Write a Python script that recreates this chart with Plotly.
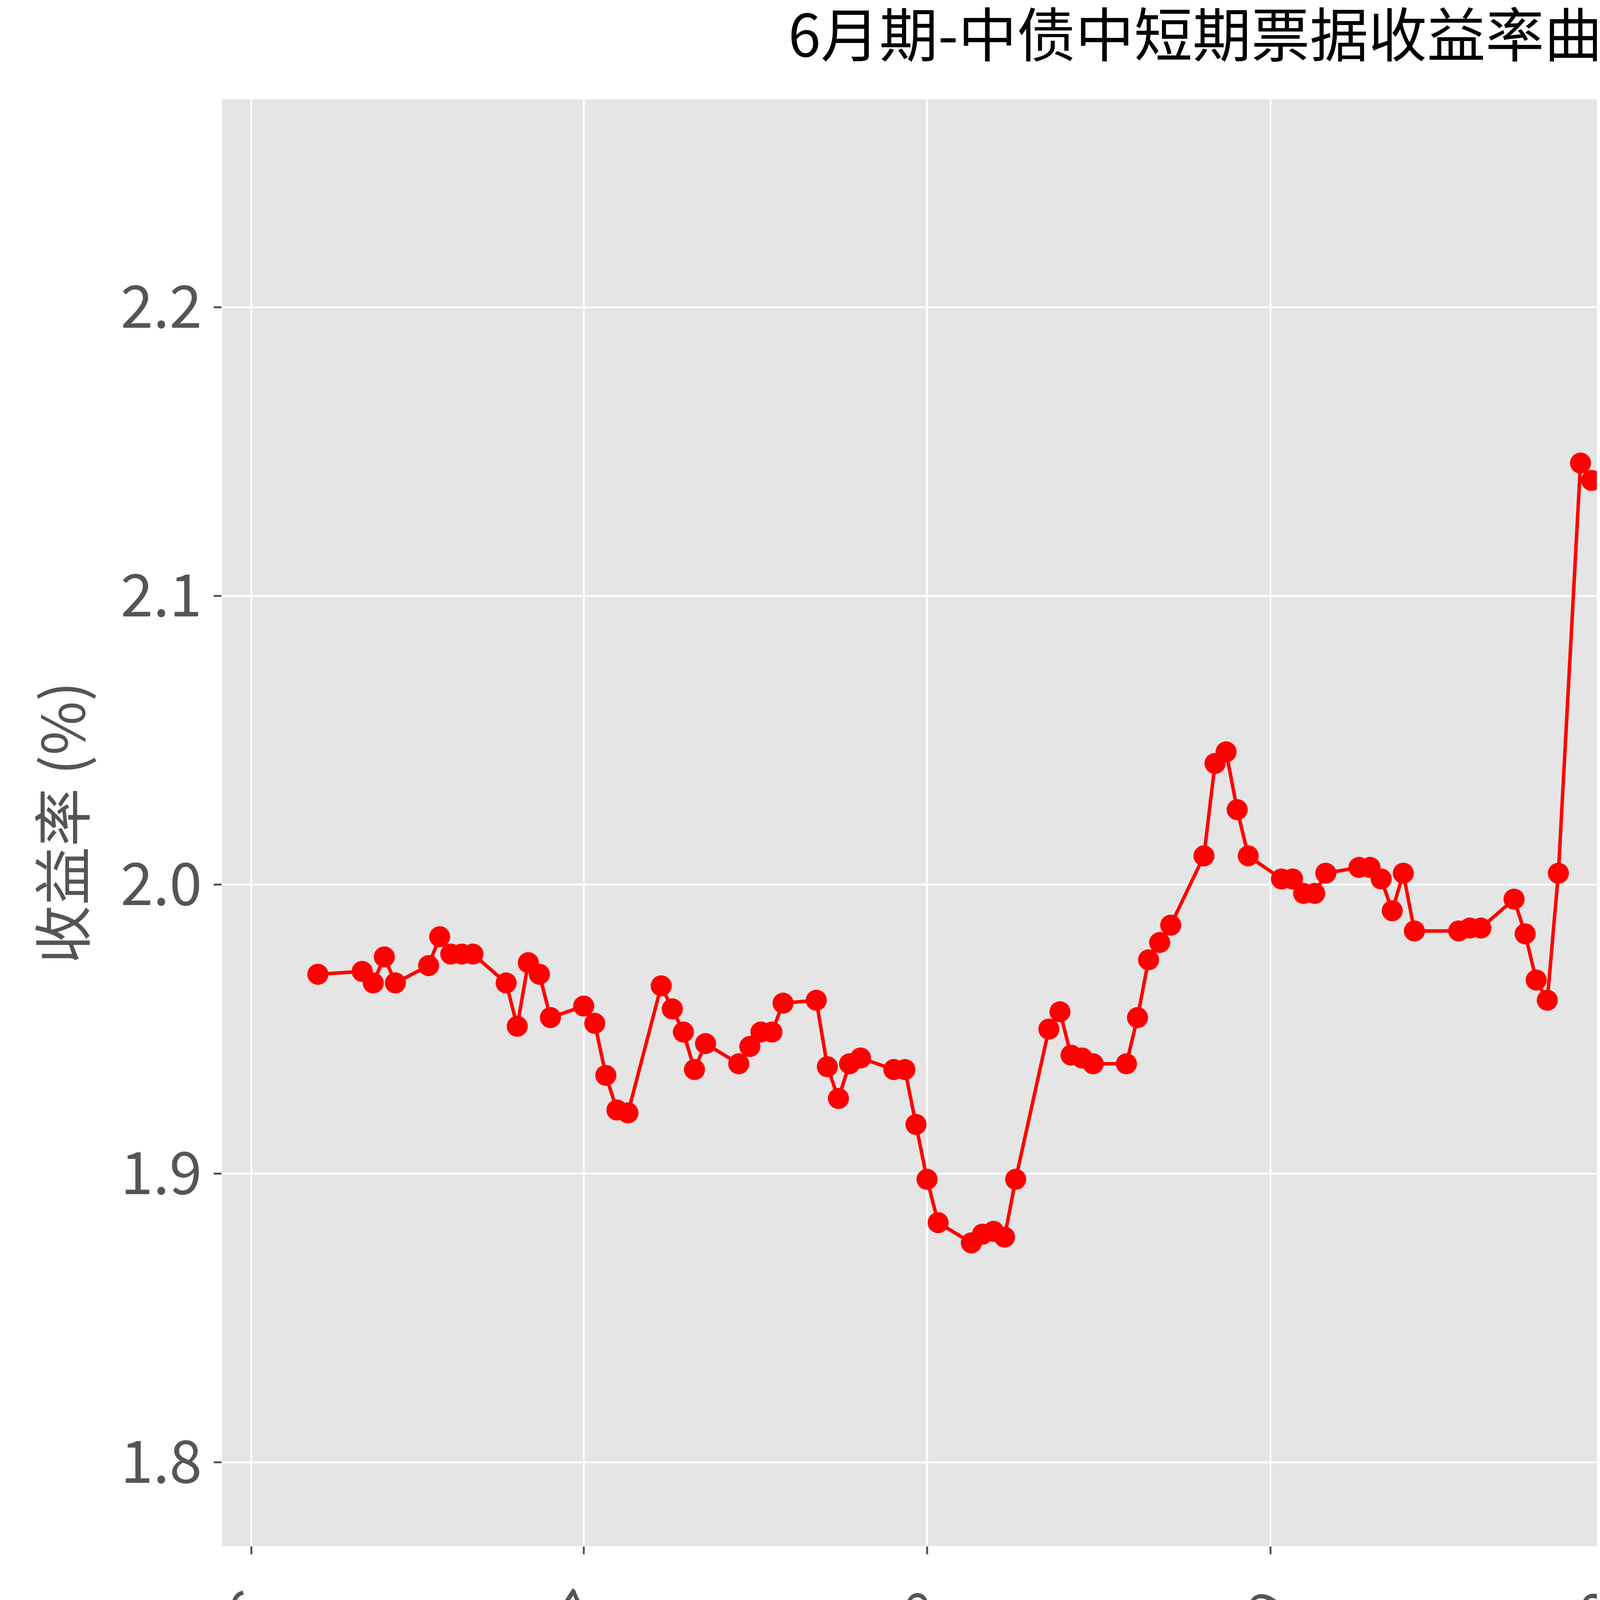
import plotly.graph_objects as go

dates = ["2024-06-07","2024-06-11","2024-06-12","2024-06-13","2024-06-14","2024-06-17","2024-06-18","2024-06-19","2024-06-20","2024-06-21",
"2024-06-24","2024-06-25","2024-06-26","2024-06-27","2024-06-28","2024-07-01","2024-07-02","2024-07-03","2024-07-04","2024-07-05",
"2024-07-08","2024-07-09","2024-07-10","2024-07-11","2024-07-12","2024-07-15","2024-07-16","2024-07-17","2024-07-18","2024-07-19",
"2024-07-22","2024-07-23","2024-07-24","2024-07-25","2024-07-26","2024-07-29","2024-07-30","2024-07-31","2024-08-01","2024-08-02",
"2024-08-05","2024-08-06","2024-08-07","2024-08-08","2024-08-09","2024-08-12","2024-08-13","2024-08-14","2024-08-15","2024-08-16",
"2024-08-19","2024-08-20","2024-08-21","2024-08-22","2024-08-23","2024-08-26","2024-08-27","2024-08-28","2024-08-29","2024-08-30",
"2024-09-02","2024-09-03","2024-09-04","2024-09-05","2024-09-06","2024-09-09","2024-09-10","2024-09-11","2024-09-12","2024-09-13",
"2024-09-14","2024-09-18","2024-09-19","2024-09-20","2024-09-23","2024-09-24","2024-09-25","2024-09-26","2024-09-27","2024-09-29",
"2024-09-30","2024-10-08","2024-10-09","2024-10-10","2024-10-11","2024-10-12","2024-10-14","2024-10-15","2024-10-16","2024-10-17",
"2024-10-18","2024-10-21","2024-10-22","2024-10-23","2024-10-24","2024-10-25","2024-10-28","2024-10-29","2024-10-30","2024-10-31",
"2024-11-01","2024-11-04","2024-11-05","2024-11-06","2024-11-07","2024-11-08","2024-11-11","2024-11-12","2024-11-13","2024-11-14",
"2024-11-15","2024-11-18","2024-11-19","2024-11-20","2024-11-21","2024-11-22","2024-11-25","2024-11-26","2024-11-27","2024-11-28",
"2024-11-29","2024-12-02","2024-12-03","2024-12-04"]

yields = [1.969,1.970,1.966,1.975,1.966,1.972,1.982,1.976,1.976,1.976,
1.966,1.951,1.973,1.969,1.954,1.958,1.952,1.934,1.922,1.921,
1.965,1.957,1.949,1.936,1.945,1.938,1.944,1.949,1.949,1.959,
1.960,1.937,1.926,1.938,1.940,1.936,1.936,1.917,1.898,1.883,
1.876,1.879,1.880,1.878,1.898,1.950,1.956,1.941,1.940,1.938,
1.938,1.954,1.974,1.980,1.986,2.010,2.042,2.046,2.026,2.010,
2.002,2.002,1.997,1.997,2.004,2.006,2.006,2.002,1.991,2.004,
1.984,1.984,1.985,1.985,1.995,1.983,1.967,1.960,2.004,2.146,
2.140,2.166,2.250,2.215,2.110,2.071,2.026,1.995,1.997,1.996,
2.000,2.005,2.005,2.022,2.030,2.040,2.030,2.032,2.023,2.012,
1.992,1.983,1.983,1.976,1.959,1.961,1.962,1.961,1.950,1.951,
1.946,1.945,1.946,1.946,1.946,1.947,1.942,1.932,1.930,1.931,
1.900,1.840,1.820,1.794]

tick_dates = ["2024-06-01","2024-07-01","2024-08-01","2024-09-01","2024-10-01","2024-11-01","2024-12-01"]
tick_text = ["2024-06","2024-07","2024-08","2024-09","2024-10","2024-11","2024-12"]

font = "Noto Sans CJK SC"

fig = go.Figure(go.Scatter(x=dates, y=yields, mode="lines+markers",
                           line=dict(color="red", width=9),
                           marker=dict(color="red", size=54)))

fig.update_layout(
    width=6194, height=4573,
    paper_bgcolor="white", plot_bgcolor="#E5E5E5",
    margin=dict(l=560, r=34, t=246, b=615),
    title=dict(text="6月期-中债中短期票据收益率曲线(AAA)", x=0.535, xanchor="center", y=0.993, yanchor="top",
               font=dict(family=font, size=150, color="black")),
    font=dict(family=font),
    showlegend=False,
)
fig.update_xaxes(range=["2024-05-29 08:00", "2024-12-12 20:00"], tickvals=tick_dates, ticktext=tick_text,
                 tickangle=-57, tickfont=dict(size=140, color="#555555"),
                 showgrid=True, gridcolor="white", gridwidth=5, zeroline=False,
                 ticks="outside", ticklen=20, tickwidth=5, tickcolor="#555555")
fig.update_yaxes(range=[1.771, 2.272], tickvals=[1.8, 1.9, 2.0, 2.1, 2.2], ticktext=["1.8","1.9","2.0","2.1","2.2"],
                 tickfont=dict(size=150, color="#555555"),
                 title=dict(text="收益率 (%)", font=dict(size=150, color="#555555"), standoff=40),
                 showgrid=True, gridcolor="white", gridwidth=5, zeroline=False,
                 ticks="outside", ticklen=20, tickwidth=5, tickcolor="#555555")

fig.write_html("out.html")
